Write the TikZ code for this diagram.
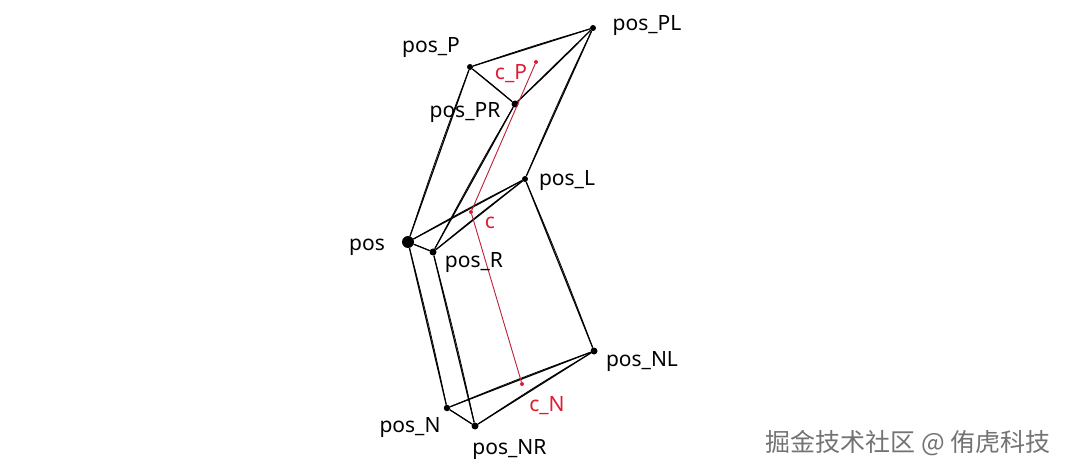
\documentclass[tikz,border=0pt]{standalone}
\usepackage{fontspec}
\setmainfont{Noto Sans}
\newfontfamily\cjkfont{Noto Sans CJK SC}
\definecolor{redc}{RGB}{222,30,50}
\definecolor{redl}{RGB}{190,30,50}
\tikzset{
  x=1pt,y=-1pt,
  pt/.style={circle,fill=black,inner sep=0pt,minimum size=#1},
  rpt/.style={circle,fill=redc,inner sep=0pt,minimum size=4pt},
  lab/.style={font=\fontsize{21}{25}\selectfont,inner sep=0pt,text=black},
  rlab/.style={font=\fontsize{21}{25}\selectfont,inner sep=0pt,text=redc},
  edge/.style={black,line width=1.2pt,line join=round},
  sketch/.style={black,line width=0.8pt,bend left=1.2},
  redge/.style={redl,line width=0.9pt}
}
\begin{document}
\begin{tikzpicture}
\useasboundingbox (0,0) rectangle (1066,473);
\node[pt=12pt] (pos) at (408,242) {};
\node[pt=7pt] (R) at (433,252) {};
\node[pt=6pt] (L) at (525,179) {};
\node[pt=6pt] (P) at (470,67) {};
\node[pt=6pt] (PL) at (593,28) {};
\node[pt=7pt] (PR) at (515,104) {};
\node[pt=6.5pt] (N) at (447,408) {};
\node[pt=7pt] (NR) at (475,426) {};
\node[pt=7pt] (NL) at (594,351) {};
\node[rpt] (c) at (471,212) {};
\node[rpt] (cP) at (536,62) {};
\node[rpt] (cN) at (522,384) {};
\foreach \a/\b in {pos/P,pos/L,pos/R,pos/N,R/PR,R/L,R/NR,L/PL,L/NL,P/PL,P/PR,PL/PR,N/NL,N/NR,NR/NL}{
  \draw[edge] (\a) -- (\b);
  \draw[sketch] (\a) to (\b);
}
\draw[redge] (cP) -- (c);
\draw[redge] (c) -- (cN);
\node[lab] (tP) at (431,48) {pos\_P};
\node[lab] (tPL) at (647,26) {pos\_PL};
\node[lab] (tPR) at (465,113) {pos\_PR};
\node[lab] (tL) at (567,181) {pos\_L};
\node[lab] (tpos) at (367,247) {pos};
\node[lab] (tR) at (474,262.5) {pos\_R};
\node[lab] (tNL) at (642,362) {pos\_NL};
\node[lab] (tN) at (410,428) {pos\_N};
\node[lab] (tNR) at (509.5,449.5) {pos\_NR};
\node[rlab] (tcP) at (511,74) {c\_P};
\node[rlab] (tc) at (490,223) {c};
\node[rlab] (tcN) at (547,405.5) {c\_N};
\node[font=\cjkfont\fontsize{25}{29}\selectfont,text=black!55,inner sep=0pt] (wm) at (908,443) {掘金技术社区 @ 侑虎科技};
\end{tikzpicture}
\end{document}
